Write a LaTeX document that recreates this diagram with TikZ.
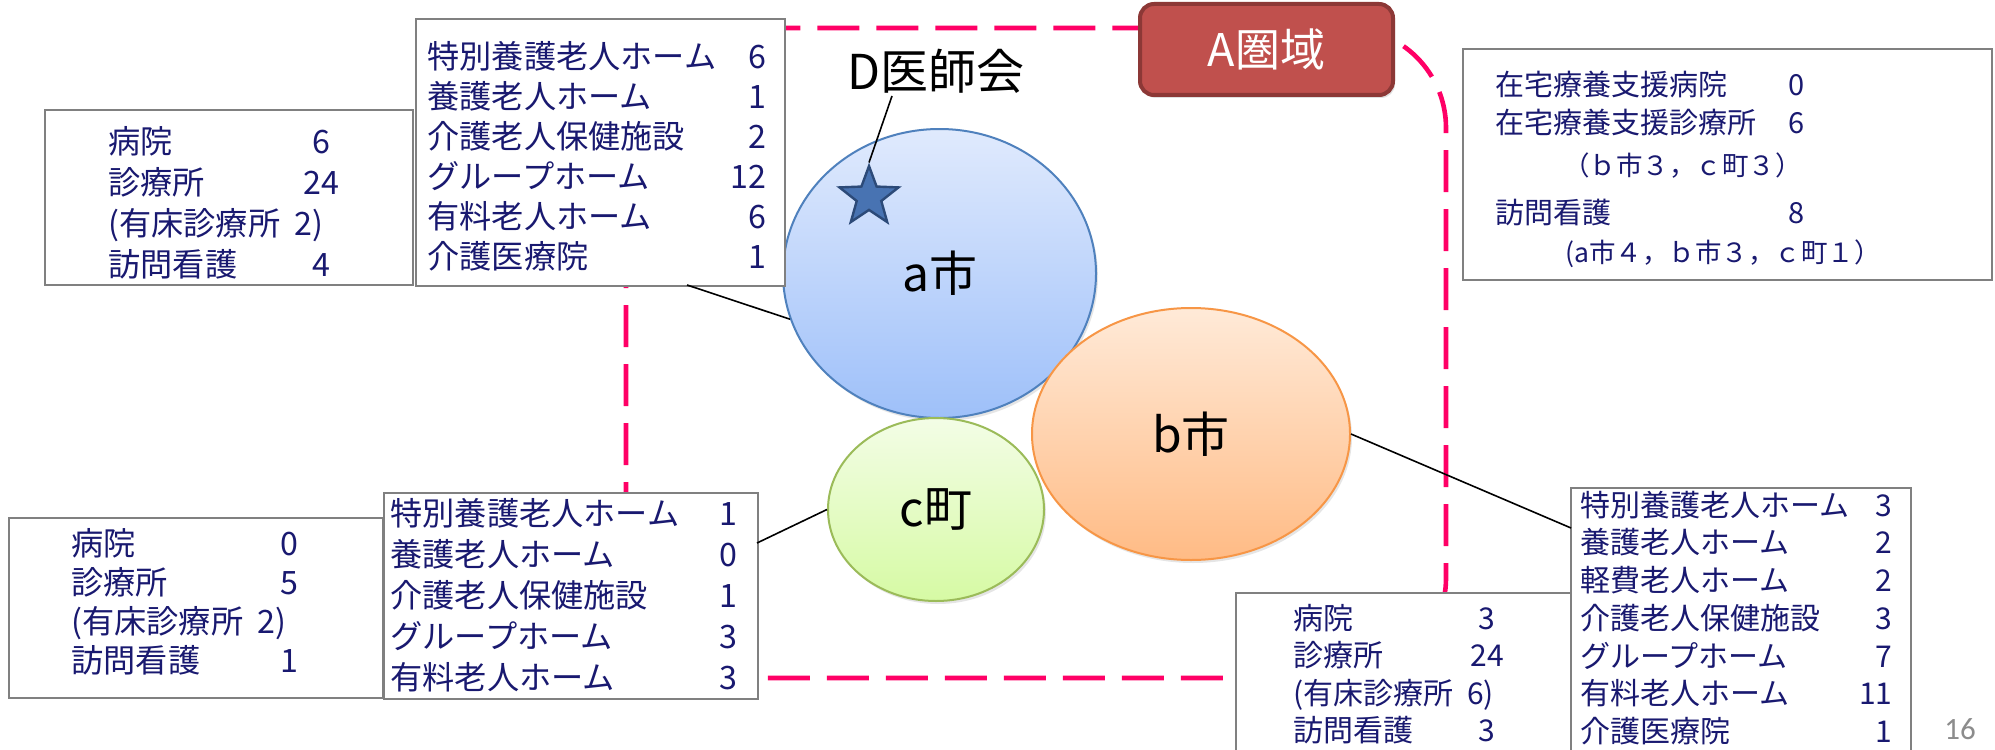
\documentclass[tikz,border=0pt]{standalone}
\usepackage{fontspec}
\setmainfont{Noto Sans CJK JP}
\newfontfamily\pagefont{Carlito}
\usetikzlibrary{shapes.geometric,shadows}
\definecolor{navy}{RGB}{25,25,112}
\definecolor{pinkline}{RGB}{255,0,102}
\definecolor{boxgray}{RGB}{128,128,128}
\definecolor{aTop}{RGB}{224,234,253}
\definecolor{aBot}{RGB}{158,192,249}
\definecolor{aBorder}{RGB}{79,129,189}
\definecolor{bTop}{RGB}{255,234,216}
\definecolor{bBot}{RGB}{255,187,133}
\definecolor{bBorder}{RGB}{247,150,70}
\definecolor{cTop}{RGB}{243,253,230}
\definecolor{cBot}{RGB}{214,250,164}
\definecolor{cBorder}{RGB}{155,187,89}
\definecolor{aFill}{RGB}{192,80,77}
\definecolor{aEdge}{RGB}{140,56,54}
\definecolor{starFill}{RGB}{72,115,178}
\definecolor{starEdge}{RGB}{44,74,120}
\definecolor{pagegray}{RGB}{140,140,140}
\begin{document}
\begin{tikzpicture}[x=0.5pt,y=-0.5pt,
  pinkdash/.style={draw=pinkline,line width=2.3pt,dash pattern=on 21pt off 8.5pt,rounded corners=50pt},
  infobox/.style={draw=boxgray,line width=1pt,fill=white,inner sep=0pt,anchor=north west},
  ell/.style={ellipse,inner sep=0pt,line width=1pt,font=\fontsize{24pt}{28pt}\selectfont,
    drop shadow={shadow xshift=1pt,shadow yshift=-1.5pt,opacity=0.2}},
  conn/.style={draw=black,line width=0.8pt},
  r158/.style={inner sep=0pt,text=navy,font=\fontsize{16.1pt}{18pt}\selectfont,text height=13.7pt,text depth=1.6pt},
  r150/.style={inner sep=0pt,text=navy,font=\fontsize{15pt}{17pt}\selectfont,text height=12.75pt,text depth=1.5pt},
  r145/.style={inner sep=0pt,text=navy,font=\fontsize{14.5pt}{17pt}\selectfont,text height=12.3pt,text depth=1.45pt},
  r132/.style={inner sep=0pt,text=navy,font=\fontsize{13.25pt}{15pt}\selectfont,text height=11.3pt,text depth=1.3pt},
  lw/.style={anchor=west},
  nr/.style={anchor=east},
  nc/.style={anchor=center},
  abox/.style={draw=aEdge,fill=aFill,line width=2pt,rounded corners=7pt,text=white,
    font=\fontsize{22.5pt}{26pt}\selectfont,inner sep=0pt,
    drop shadow={shadow xshift=1pt,shadow yshift=-1.5pt,opacity=0.25}},
  dstar/.style={star,star points=5,star point ratio=2.4,minimum size=31pt,inner sep=0pt,
    fill=starFill,draw=starEdge,line width=1.2pt}
]
\useasboundingbox (0,0) rectangle (1995,749);
\fill[white] (0,0) rectangle (1995,749);
\clip (0,0) rectangle (1995,749);

% dashed area
\draw[pinkdash] (626,28) rectangle (1446,678);

% A area label
\node[abox,minimum width=126.5pt,minimum height=45.5pt] (aken) at (1266.5,49.5) {A圏域};

% municipalities
\node[ell,minimum width=156.5pt,minimum height=144.5pt,draw=aBorder,top color=aTop,bottom color=aBot] (acity) at (939.5,273.5) {a市};
\node[ell,minimum width=108pt,minimum height=91.5pt,draw=cBorder,top color=cTop,bottom color=cBot] (ctown) at (936,509.5) {c町};
\node[ell,minimum width=159pt,minimum height=126pt,draw=bBorder,top color=bTop,bottom color=bBot] (bcity) at (1191,434) {b市};

% boxes
\node[infobox,minimum width=184pt,minimum height=87.5pt] (tlbox) at (44,109) {};
\node[infobox,minimum width=184.5pt,minimum height=133.5pt] (tcbox) at (415,18) {};
\node[infobox,minimum width=264.5pt,minimum height=115.5pt] (rtbox) at (1462,48) {};
\node[infobox,minimum width=187pt,minimum height=90pt] (blbox) at (8,517) {};
\node[infobox,minimum width=187pt,minimum height=103pt] (cbox) at (383,492) {};
\node[infobox,minimum width=168pt,minimum height=94pt] (bbbox) at (1235,592) {};
\node[infobox,minimum width=170pt,minimum height=146.5pt] (brbox) at (1570,487) {};

% top-left box
\node[r158,lw] (tl1) at (108,141) {病院};
\node[r158,nc] (tl1n) at (321,141) {6};
\node[r158,lw] (tl2) at (108,182) {診療所};
\node[r158,nc] (tl2n) at (321,182) {24};
\node[r158,lw] (tl3) at (108,223) {(有床診療所\hspace{0.45em}2)};
\node[r158,lw] (tl4) at (108,264) {訪問看護};
\node[r158,nc] (tl4n) at (321,264) {4};

% top-centre box
\node[r158,lw] (tc1) at (427,56) {特別養護老人ホーム};
\node[r158,nr] (tc1n) at (767,56) {6};
\node[r158,lw] (tc2) at (427,96) {養護老人ホーム};
\node[r158,nr] (tc2n) at (767,96) {1};
\node[r158,lw] (tc3) at (427,136) {介護老人保健施設};
\node[r158,nr] (tc3n) at (767,136) {2};
\node[r158,lw] (tc4) at (427,176) {グループホーム};
\node[r158,nr] (tc4n) at (767,176) {12};
\node[r158,lw] (tc5) at (427,216) {有料老人ホーム};
\node[r158,nr] (tc5n) at (767,216) {6};
\node[r158,lw] (tc6) at (427,256) {介護医療院};
\node[r158,nr] (tc6n) at (767,256) {1};

% right-top box
\node[r145,lw] (rt1) at (1495,85) {在宅療養支援病院};
\node[r145,nc] (rt1n) at (1797,85) {0};
\node[r145,lw] (rt2) at (1495,123) {在宅療養支援診療所};
\node[r145,nc] (rt2n) at (1797,123) {6};
\node[r132,lw] (rt3) at (1563,165) {（ｂ市３，ｃ町３）};
\node[r145,lw] (rt4) at (1495,213) {訪問看護};
\node[r145,nc] (rt4n) at (1797,213) {8};
\node[r132,lw] (rt5) at (1565,252) {(a市４，ｂ市３，ｃ町１）};

% bottom-left box
\node[r158,lw] (bl1) at (71,543) {病院};
\node[r158,nc] (bl1n) at (289,543) {0};
\node[r158,lw] (bl2) at (71,582) {診療所};
\node[r158,nc] (bl2n) at (289,582) {5};
\node[r158,lw] (bl3) at (71,621) {(有床診療所\hspace{0.45em}2)};
\node[r158,lw] (bl4) at (71,660) {訪問看護};
\node[r158,nc] (bl4n) at (289,660) {1};

% c-town box
\node[r158,lw] (c1) at (390,513) {特別養護老人ホーム};
\node[r158,nr] (c1n) at (738,513) {1};
\node[r158,lw] (c2) at (390,554) {養護老人ホーム};
\node[r158,nr] (c2n) at (738,554) {0};
\node[r158,lw] (c3) at (390,595) {介護老人保健施設};
\node[r158,nr] (c3n) at (738,595) {1};
\node[r158,lw] (c4) at (390,636) {グループホーム};
\node[r158,nr] (c4n) at (738,636) {3};
\node[r158,lw] (c5) at (390,677) {有料老人ホーム};
\node[r158,nr] (c5n) at (738,677) {3};

% bottom box (b city, medical)
\node[r150,lw] (bb1) at (1293,618) {病院};
\node[r150,nc] (bb1n) at (1487,618) {3};
\node[r150,lw] (bb2) at (1293,655.5) {診療所};
\node[r150,nc] (bb2n) at (1487,655.5) {24};
\node[r150,lw] (bb3) at (1293,693) {(有床診療所\hspace{0.45em}6)};
\node[r150,lw] (bb4) at (1293,730.5) {訪問看護};
\node[r150,nc] (bb4n) at (1487,730.5) {3};

% bottom-right box (b city, care)
\node[r150,lw] (br1) at (1580,505) {特別養護老人ホーム};
\node[r150,nr] (br1n) at (1893,505) {3};
\node[r150,lw] (br2) at (1580,542.7) {養護老人ホーム};
\node[r150,nr] (br2n) at (1893,542.7) {2};
\node[r150,lw] (br3) at (1580,580.4) {軽費老人ホーム};
\node[r150,nr] (br3n) at (1893,580.4) {2};
\node[r150,lw] (br4) at (1580,618) {介護老人保健施設};
\node[r150,nr] (br4n) at (1893,618) {3};
\node[r150,lw] (br5) at (1580,655.8) {グループホーム};
\node[r150,nr] (br5n) at (1893,655.8) {7};
\node[r150,lw] (br6) at (1580,693.5) {有料老人ホーム};
\node[r150,nr] (br6n) at (1893,693.5) {11};
\node[r150,lw] (br7) at (1580,731) {介護医療院};
\node[r150,nr] (br7n) at (1893,731) {1};

% connectors
\coordinate (ta) at (687,285);
\coordinate (tcx) at (757,543);
\coordinate (tbx) at (1571,528);
\draw[conn] (ta) -- (acity.197);
\draw[conn] (tcx) -- (ctown.west);
\draw[conn] (bcity.east) -- (tbx);

% D medical association
\node[dstar] (dstarn) at (869,197) {};
\node[inner sep=0pt,font=\fontsize{24pt}{28pt}\selectfont] (dlab) at (935.5,71) {D医師会};
\coordinate (dl) at (892,96);
\draw[conn] (dl) -- (dstarn.north);

% page number
\node[inner sep=0pt,text=pagegray,font=\pagefont\fontsize{15.5pt}{18pt}\selectfont] (pg) at (1960,729) {16};
\end{tikzpicture}
\end{document}
